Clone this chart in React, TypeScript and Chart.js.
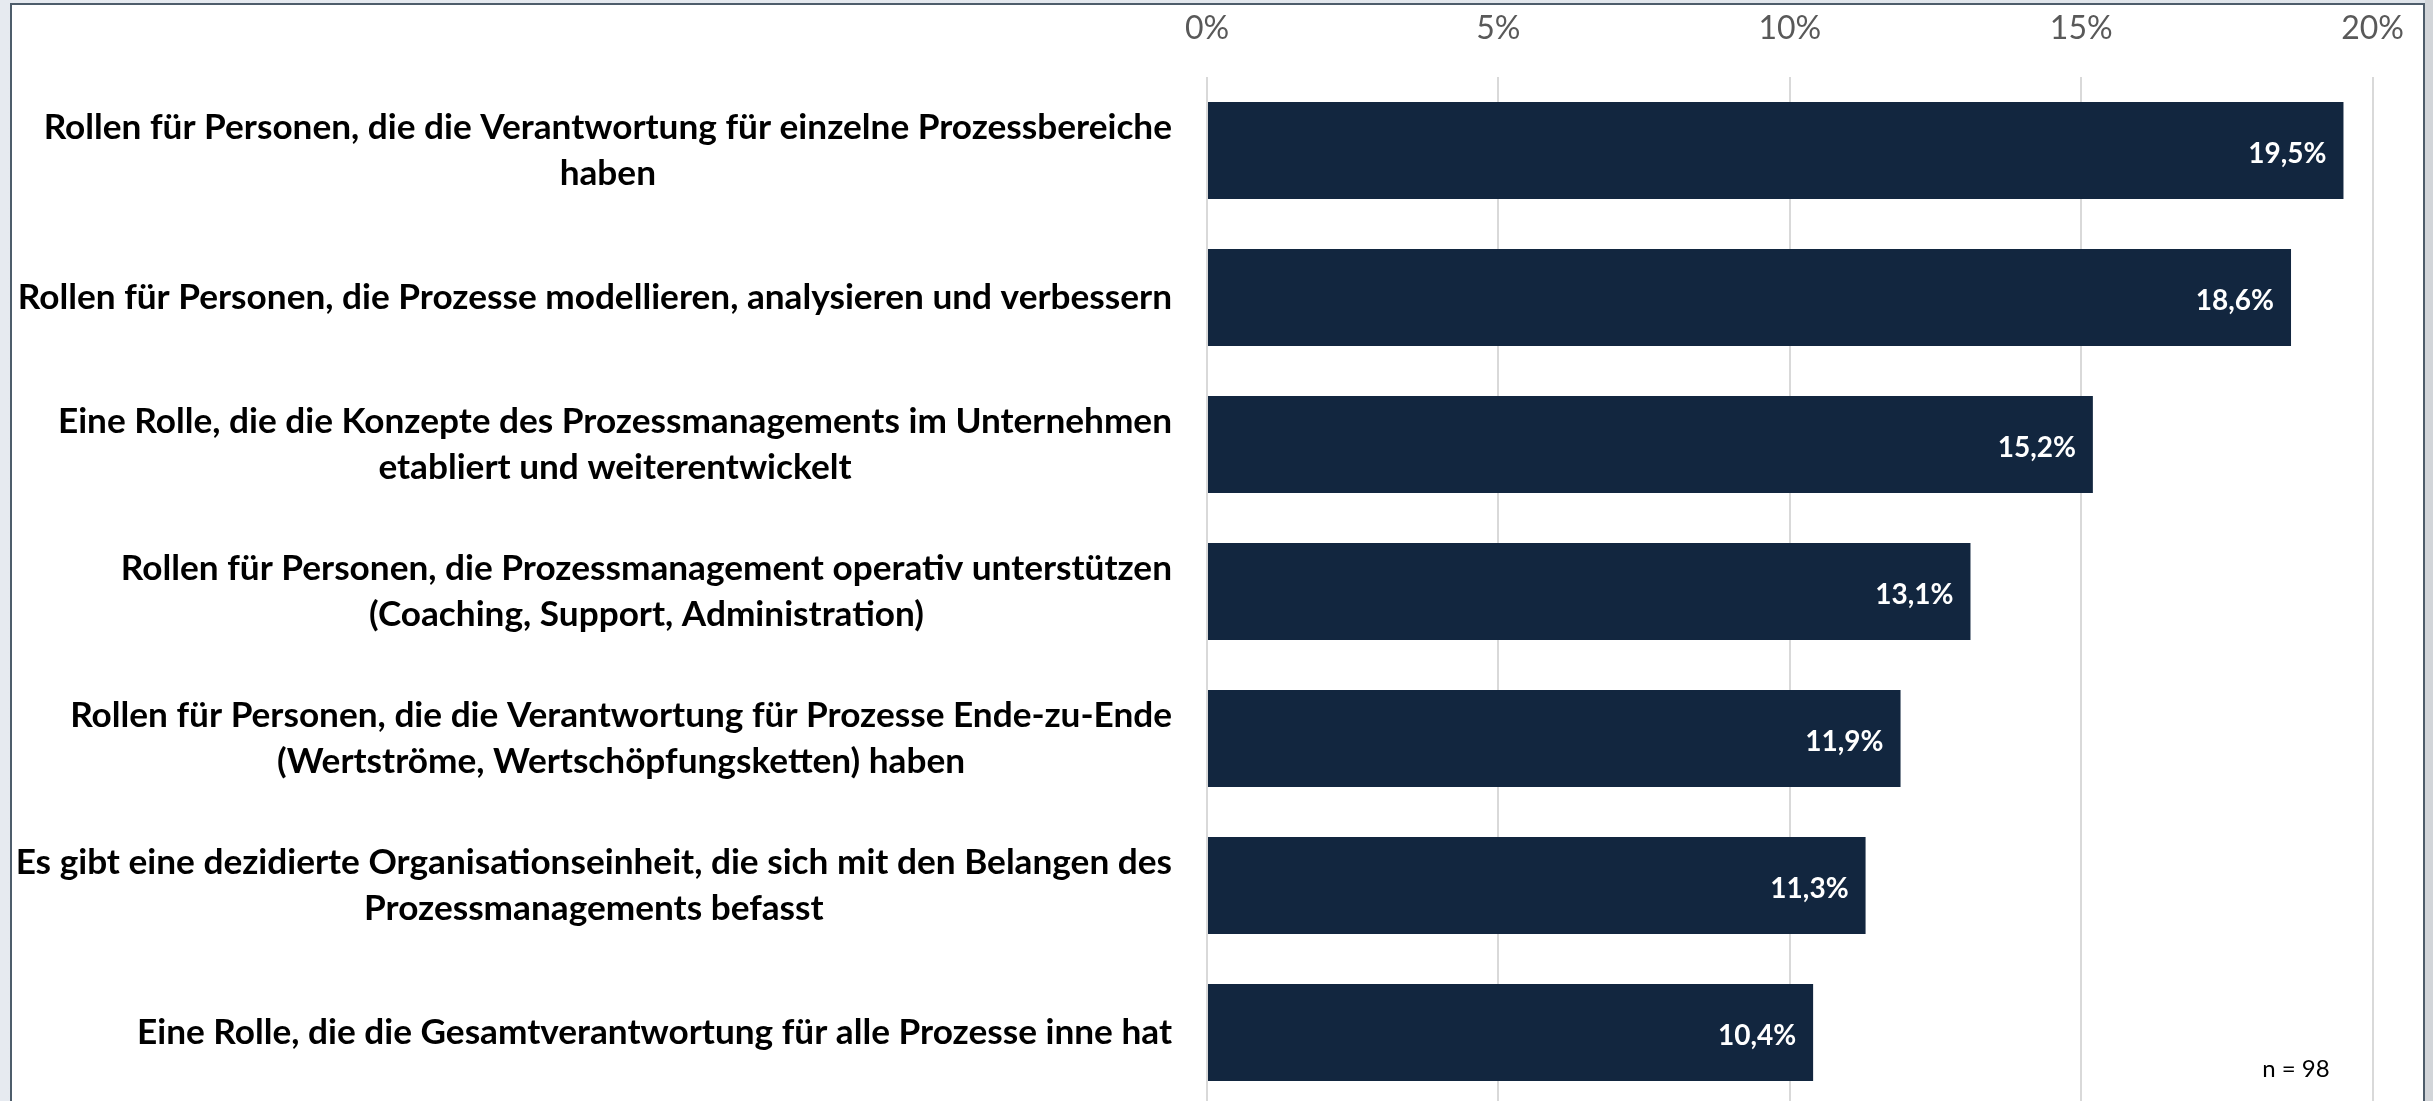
import React, { useEffect, useRef } from "react";
import { Chart, registerables } from "chart.js";

Chart.register(...registerables);

// ---- data ----
const categories: string[][] = [
  ["Rollen für Personen, die die Verantwortung für einzelne Prozessbereiche", "haben"],
  ["Rollen für Personen, die Prozesse modellieren, analysieren und verbessern"],
  ["Eine Rolle, die die Konzepte des Prozessmanagements im Unternehmen", "etabliert und weiterentwickelt"],
  ["Rollen für Personen, die Prozessmanagement operativ unterstützen", "(Coaching, Support, Administration)"],
  ["Rollen für Personen, die die Verantwortung für Prozesse Ende-zu-Ende", "(Wertströme, Wertschöpfungsketten) haben"],
  ["Es gibt eine dezidierte Organisationseinheit, die sich mit den Belangen des", "Prozessmanagements befasst"],
  ["Eine Rolle, die die Gesamtverantwortung für alle Prozesse inne hat"],
];
const values: number[] = [19.5, 18.6, 15.2, 13.1, 11.9, 11.3, 10.4];
const axisMin = 0;
const axisMax = 20;
const axisStep = 5;
const sampleNote = "n = 98";

// ---- style ----
const FONT = "Lato, 'Open Sans', sans-serif";
const BAR_COLOR = "#12263f";
const CAT_FONT_SIZE = 35.2;
const CAT_LINE_HEIGHT = 46.5;
const TICK_FONT_SIZE = 32;
const VALUE_FONT_SIZE = 28;
const NOTE_FONT_SIZE = 24;

const fmtValue = (v: number) => v.toFixed(1).replace(".", ",") + "%";

const categoryLabelPlugin = {
  id: "categoryLabels",
  afterDraw(chart: any) {
    const ctx = chart.ctx as CanvasRenderingContext2D;
    const yScale = chart.scales.y;
    const right = chart.chartArea.left - 35;
    ctx.save();
    ctx.font = `bold ${CAT_FONT_SIZE}px ${FONT}`;
    ctx.fillStyle = "#000000";
    ctx.textAlign = "center";
    ctx.textBaseline = "middle";
    categories.forEach((lines, i) => {
      const cy = yScale.getPixelForValue(i);
      const w = Math.max(...lines.map((l) => ctx.measureText(l).width));
      const cx = right - w / 2;
      lines.forEach((line, j) => {
        ctx.fillText(line, cx, cy + (j - (lines.length - 1) / 2) * CAT_LINE_HEIGHT);
      });
    });
    // sample size note
    ctx.font = `${NOTE_FONT_SIZE}px ${FONT}`;
    ctx.textAlign = "right";
    ctx.fillText(sampleNote, chart.chartArea.right - 43, 1069);
    ctx.restore();
  },
};

const valueLabelPlugin = {
  id: "valueLabels",
  afterDatasetsDraw(chart: any) {
    const ctx = chart.ctx as CanvasRenderingContext2D;
    const meta = chart.getDatasetMeta(0);
    ctx.save();
    ctx.font = `bold ${VALUE_FONT_SIZE}px ${FONT}`;
    ctx.fillStyle = "#ffffff";
    ctx.textAlign = "right";
    ctx.textBaseline = "middle";
    meta.data.forEach((bar: any, i: number) => {
      ctx.fillText(fmtValue(values[i]), bar.x - 17, bar.y + 3);
    });
    ctx.restore();
  },
};

export default function App() {
  const canvasRef = useRef<HTMLCanvasElement | null>(null);

  useEffect(() => {
    if (!canvasRef.current) return;
    const chart = new Chart(canvasRef.current, {
      type: "bar",
      data: {
        labels: categories,
        datasets: [
          {
            data: values,
            backgroundColor: BAR_COLOR,
            borderWidth: 0,
            categoryPercentage: 0.66,
            barPercentage: 1,
          },
        ],
      },
      options: {
        indexAxis: "y",
        responsive: false,
        animation: false,
        devicePixelRatio: 1,
        layout: { padding: { left: 1207, right: 59, top: 10, bottom: 0 } },
        plugins: {
          legend: { display: false },
          tooltip: { enabled: false },
          title: { display: false },
        },
        scales: {
          x: {
            position: "top",
            min: axisMin,
            max: axisMax,
            ticks: {
              stepSize: axisStep,
              padding: 29,
              color: "#595959",
              font: { family: FONT, size: TICK_FONT_SIZE },
              callback: (v: any) => `${v}%`,
            },
            grid: { color: "#d9d9d9", lineWidth: 2, drawTicks: false },
            border: { display: false },
            afterFit: (scale: any) => {
              scale.height = 67;
            },
          },
          y: {
            display: false,
            grid: { display: false },
          },
        },
      },
      plugins: [categoryLabelPlugin, valueLabelPlugin],
    } as any);
    return () => chart.destroy();
  }, []);

  return (
    <div
      style={{
        position: "fixed",
        left: 0,
        top: 0,
        width: 2433,
        height: 1101,
        overflow: "hidden",
        background: "linear-gradient(90deg, #e6eaf0, #dfe4ea)",
      }}
    >
      <div
        style={{
          position: "absolute",
          left: 10,
          top: 3,
          width: 2415,
          height: 1200,
          boxSizing: "border-box",
          border: "2px solid #4e5d6b",
          background: "#ffffff",
        }}
      />
      <div
        style={{
          position: "absolute",
          left: 2425,
          top: 0,
          width: 8,
          height: 1101,
          background: "#d2d5d9",
        }}
      />
      <canvas
        ref={canvasRef}
        width={2433}
        height={1106}
        style={{ position: "absolute", left: 0, top: 0, width: 2433, height: 1106 }}
      />
    </div>
  );
}
